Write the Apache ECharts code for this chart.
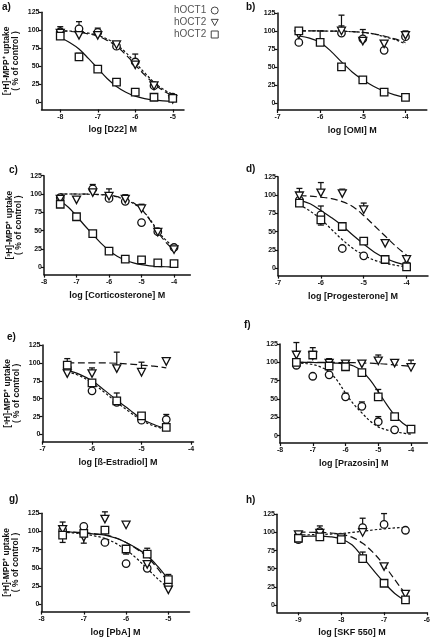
<!DOCTYPE html>
<html><head><meta charset="utf-8">
<script src="https://cdn.jsdelivr.net/npm/echarts@6/dist/echarts.min.js"></script>
<style>html,body{margin:0;padding:0;background:#fff}#c{width:433px;height:640px}</style>
</head><body><div id="c"></div><script>
// ---------- data ----------
const yTicks = [0, 25, 50, 75, 100, 125];
const legendNames = ['hOCT1', 'hOCT2', 'hOCT2'];
const panelLabels = ['a)', 'b)', 'c)', 'd)', 'e)', 'f)', 'g)', 'h)'];
const xNames = ['log [D22] M', 'log [OMI] M', 'log [Corticosterone] M', 'log [Progesterone] M',
  'log [ß-Estradiol] M', 'log [Prazosin] M', 'log [PbA] M', 'log [SKF 550] M'];
const yName = '[³H]-MPP⁺ uptake\n( % of control )';

// panel a
const xTicksA = [-8, -7, -6, -5];
const dosesA = [-8, -7.5, -7, -6.5, -6, -5.5, -5];
const oct1A = [98, 102, 97, 78, 56, 23, 7];      const err1A = [7, 10, 6, 0, 11, 0, 0];
const oct2A = [96, 93, 93, 80, 52, 23, 4];       const err2A = [0, 0, 0, 4, 0, 0, 0];
const oct3A = [92, 63, 46, 28, 14, 7, 5.5];      const err3A = [0, 5, 0, 0, 0, 0, 0];
const fitXA = [-8, -7.75, -7.5, -7.25, -7, -6.75, -6.5, -6.25, -6, -5.75, -5.5, -5.25, -5];
const fit1A = [99.5, 99, 98, 96, 93, 88, 80, 69, 55, 41, 28, 18, 11];
const fit2A = [99, 98.5, 97, 95, 92, 86, 78, 66, 52, 38, 26, 16, 9];
const fit3A = [90, 83, 74, 61, 47, 33, 22, 14, 8.5, 5, 3, 2, 1.5];

// panel b
const xTicksB = [-7, -6, -5, -4];
const dosesB = [-6.5, -6, -5.5, -5, -4.5, -4];
const oct1B = [84, null, 97, 89, 73, 92];        const err1B = [0, 0, 10, 13, 0, 0];
const oct2B = [95, null, 100, 86, 82, 94];       const err2B = [0, 0, 22, 0, 4, 6];
const oct3B = [100, 84, 50, 32, 15, 7.5];        const err3B = [0, 16, 0, 0, 0, 0];
const fitXB = [-6.5, -6.25, -6, -5.75, -5.5, -5.25, -5, -4.75, -4.5, -4.25, -4];
const fit1B = [100, 100, 100, 99.8, 99.5, 99, 98, 96, 92, 88, 82];
const fit2B = [100, 100, 100, 99.8, 99.5, 99, 98, 96, 93, 89, 84];
const fit3B = [93, 90, 84, 72, 57, 43, 32, 23, 16, 11, 7];

// panel c
const xTicksC = [-8, -7, -6, -5, -4];
const dosesC = [-7.5, -7, -6.5, -6, -5.5, -5, -4.5, -4];
const oct1C = [95, null, 107, 94, 90, 61, 48.5, 27]; const err1C = [0, 0, 6, 13, 9, 0, 0, 0];
const oct2C = [93, 92, 102, 97, 93, 80, 48, 24];     const err2C = [0, 0, 0, 0, 0, 6, 0, 0];
const oct3C = [86, 69, 46, 22, 11, 10, 6, 5];        const err3C = [0, 0, 0, 0, 0, 0, 0, 0];
const fitXC = [-7.5, -7.25, -7, -6.75, -6.5, -6.25, -6, -5.75, -5.5, -5.25, -5, -4.75, -4.5, -4.25, -4];
const fit1C = [100, 100, 100, 99.8, 99.5, 99, 98, 96, 92, 87, 79, 66, 50, 37, 27];
const fit2C = [100, 100, 100, 100, 99.7, 99.3, 98.5, 96.5, 93, 88, 79, 65, 48, 34, 23];
const fit3C = [90, 82, 70, 57, 45, 33, 23, 15, 10, 6, 3.5, 2, 1.2, 0.7, 0.4];

// panel d
const xTicksD = [-7, -6, -5, -4];
const dosesD = [-6.5, -6, -5.5, -5, -4.5, -4];
const oct1D = [93, 73, 27, 17, 12, 4];           const err1D = [0, 12, 0, 0, 0, 0];
const oct2D = [99, 103, 102, 80, 34, 12];        const err2D = [10, 14, 6, 9, 0, 0];
const oct3D = [89, 66, 57, 37, 12, 2];           const err3D = [0, -7, 0, 0, 0, 0];
const fitXD = [-6.5, -6.25, -6, -5.75, -5.5, -5.25, -5, -4.75, -4.5, -4.25, -4];
const fit1D = [87, 78, 67, 53, 39, 27, 18, 11, 7, 4, 2];
const fit2D = [99, 98.5, 97, 95, 91, 84, 72, 58, 44, 30, 18];
const fit3D = [93, 88, 79, 69, 58, 45, 33, 22, 14, 8, 4];

// panel e
const xTicksE = [-7, -6, -5, -4];
const dosesE = [-6.5, -6, -5.5, -5, -4.5];
const oct1E = [93, 61, 45, 20, 21];              const err1E = [0, 0, 0, 0, 7];
const oct2E = [85, 85, 92, 87, 102];             const err2E = [0, 8, 23, 14, 0];
const oct3E = [97, 72, 47, 26, 10];              const err3E = [9, 0, 11, 0, 0];
const fitXE = [-6.5, -6.25, -6, -5.75, -5.5, -5.25, -5, -4.75, -4.5];
const fit1E = [88, 82, 72, 59, 45, 32, 20, 12, 7];
const fit2E = [100, 100, 100, 100, 99.5, 98.5, 97, 95.5, 93];
const fit3E = [90, 84, 75, 62, 48, 35, 22, 14, 8];

// panel f
const xTicksF = [-8, -7, -6, -5, -4];
const dosesF = [-7.5, -7, -6.5, -6, -5.5, -5, -4.5, -4];
const oct1F = [96, 81, 83, 53, 40, 19, 8, null];     const err1F = [0, 0, 0, 5, 6, 7, 0, 0];
const oct2F = [110, 109, 99, 98, 98, 102, 99, 93];   const err2F = [17, 11, 6, 4, 4, 8, 0, 10];
const oct3F = [100, 110, 95, 94, 86, 53, 26, 9];     const err3F = [0, 0, 0, 0, 0, 10, 0, 0];
const fitXF = [-7.5, -7.25, -7, -6.75, -6.5, -6.25, -6, -5.75, -5.5, -5.25, -5, -4.75, -4.5, -4.25, -4];
const fit1F = [99, 98.5, 97, 93.5, 87, 75, 58, 43, 31, 20, 12, 8, 5.5, 3.5, 2];
const fit2F = [100, 100, 100, 100, 100, 99.8, 99.7, 99.5, 99.2, 98.8, 98.2, 97.5, 96.5, 95.5, 94.5];
const fit3F = [100, 100, 99.8, 99.6, 99.3, 98.8, 97.5, 95, 88, 76, 60, 43, 28, 17, 10];

// panel g
const xTicksG = [-8, -7, -6, -5];
const dosesG = [-7.5, -7, -6.5, -6, -5.5, -5];
const oct1G = [102, 107, 85, 56, 49.5, 26.5];    const err1G = [0, 0, 0, 0, 0, 0];
const oct2G = [103, 92, 117, 109, 55, 20];       const err2G = [10, -8, 10, 0, 0, 0];
const oct3G = [95, 97.5, 102, 76, 69, 34];       const err3G = [-10, 0, 0, -7, 8, 7];
const fitXG = [-7.5, -7.25, -7, -6.75, -6.5, -6.25, -6, -5.75, -5.5, -5.25, -5];
const fit1G = [99, 98, 96.5, 94, 90.5, 84, 75, 63, 49, 35, 22];
const fit2G = [99.8, 99.3, 98.5, 97, 95.5, 91.5, 85, 76, 65, 49, 30];
const fit3G = [99.7, 99, 98, 96.5, 95, 91, 85, 77, 67, 52, 34];

// panel h
const xTicksH = [-9, -8, -7, -6];
const dosesH = [-9, -8.5, -8, -7.5, -7, -6.5];
const oct1H = [90, 101, 93, 106.6, 111, 103];    const err1H = [0, 8, 0, 13, 15, 0];
const oct2H = [97, 99, 93, 100, 53, 15];         const err2H = [0, 0, 0, 0, 0, 0];
const oct3H = [92, 94, 90, 64, 30, 7];           const err3H = [0, 0, 0, 9, 0, 0];
const fitXH = [-9, -8.75, -8.5, -8.25, -8, -7.75, -7.5, -7.25, -7, -6.75, -6.5];
const fit1H = [96.5, 96.8, 97.2, 97.8, 98.7, 100, 101.7, 103.5, 105, 106.2, 107];
const fit2H = [100.5, 100.3, 100, 99.3, 97.5, 93.5, 85, 72, 55, 35, 15];
const fit3H = [94, 95, 95, 94, 91, 83, 66, 48, 31, 16, 6];

// ---------- layout (positions/styles) ----------
const FONT = 'Liberation Sans, Arial, sans-serif';
const layout = [
  { left: 41.5, top: 12.3, width: 142.5, height: 97.2, xmin: -8.5, xmax: -4.7 },
  { left: 277.5, top: 13, width: 149.3, height: 97, xmin: -7, xmax: -3.5 },
  { left: 44, top: 175.7, width: 146.3, height: 98.9, xmin: -8, xmax: -3.5 },
  { left: 278, top: 176.7, width: 150, height: 98.9, xmin: -7, xmax: -3.5 },
  { left: 42.5, top: 345, width: 151, height: 96.7, xmin: -7, xmax: -3.95 },
  { left: 280, top: 344, width: 147.4, height: 99, xmin: -8, xmax: -3.5 },
  { left: 41.5, top: 513.3, width: 148, height: 98.3, xmin: -8, xmax: -4.5 },
  { left: 277, top: 514.3, width: 151.3, height: 98, xmin: -9.5, xmax: -6 }
];
const labelPos = [[2, 2], [246, 2], [9, 165], [246, 164], [7, 332], [244, 320], [9, 494], [246, 495]];

const panels = [
  [xTicksA, dosesA, oct1A, err1A, oct2A, err2A, oct3A, err3A, fitXA, fit1A, fit2A, fit3A],
  [xTicksB, dosesB, oct1B, err1B, oct2B, err2B, oct3B, err3B, fitXB, fit1B, fit2B, fit3B],
  [xTicksC, dosesC, oct1C, err1C, oct2C, err2C, oct3C, err3C, fitXC, fit1C, fit2C, fit3C],
  [xTicksD, dosesD, oct1D, err1D, oct2D, err2D, oct3D, err3D, fitXD, fit1D, fit2D, fit3D],
  [xTicksE, dosesE, oct1E, err1E, oct2E, err2E, oct3E, err3E, fitXE, fit1E, fit2E, fit3E],
  [xTicksF, dosesF, oct1F, err1F, oct2F, err2F, oct3F, err3F, fitXF, fit1F, fit2F, fit3F],
  [xTicksG, dosesG, oct1G, err1G, oct2G, err2G, oct3G, err3G, fitXG, fit1G, fit2G, fit3G],
  [xTicksH, dosesH, oct1H, err1H, oct2H, err2H, oct3H, err3H, fitXH, fit1H, fit2H, fit3H]
];

const TRI = 'path://M0,0L10,0L5,9Z';
const symbols = [
  { symbol: 'circle', size: 7.5 },
  { symbol: TRI, size: [8, 7.5] },
  { symbol: 'rect', size: 7.5 }
];
const seriesNames = ['hOCT1', 'hOCT2', 'hOCT3'];
const dashes = [[2.5, 2], [7, 3.5], 'solid'];
const INK = '#111';

const grid = [], xAxis = [], yAxis = [], series = [], graphic = [];

function errRender(params, api) {
  const x = api.value(0), y = api.value(1), e = api.value(2);
  const p0 = api.coord([x, y]);
  const p1 = api.coord([x, y + e]);
  return {
    type: 'group', children: [
      { type: 'line', shape: { x1: p0[0], y1: p0[1], x2: p1[0], y2: p1[1] }, style: { stroke: INK, lineWidth: 1.2 } },
      { type: 'line', shape: { x1: p1[0] - 3, y1: p1[1], x2: p1[0] + 3, y2: p1[1] }, style: { stroke: INK, lineWidth: 1.3 } }
    ]
  };
}

panels.forEach((p, i) => {
  const L = layout[i];
  const [xt, doses, o1, e1, o2, e2, o3, e3, fx, f1, f2, f3] = p;
  grid.push({ left: L.left, top: L.top, width: L.width, height: L.height });
  xAxis.push({
    type: 'value', gridIndex: i, min: L.xmin, max: L.xmax,
    axisLine: { show: true, onZero: false, lineStyle: { color: INK, width: 1.5 } },
    axisTick: { show: true, length: 3, lineStyle: { color: INK, width: 1.2 }, customValues: xt },
    axisLabel: { customValues: xt, fontSize: 7, fontWeight: 'bold', color: INK, margin: 4, fontFamily: FONT },
    splitLine: { show: false },
    name: xNames[i], nameLocation: 'middle', nameGap: 16,
    nameTextStyle: { fontSize: 9, fontWeight: 'bold', color: INK, fontFamily: FONT }
  });
  const ya = {
    type: 'value', gridIndex: i, min: -10, max: 125,
    axisLine: { show: true, onZero: false, lineStyle: { color: INK, width: 1.5 } },
    axisTick: { show: true, length: 3, lineStyle: { color: INK, width: 1.2 }, customValues: yTicks },
    axisLabel: { customValues: yTicks, fontSize: 7, fontWeight: 'bold', color: INK, margin: 2, fontFamily: FONT },
    splitLine: { show: false }
  };
  if (i % 2 === 0) {
    ya.name = yName; ya.nameLocation = 'middle'; ya.nameRotate = 90; ya.nameGap = 21;
    ya.nameTextStyle = { fontSize: 8.5, fontWeight: 'bold', color: INK, fontFamily: FONT, lineHeight: 9 };
  }
  yAxis.push(ya);

  const means = [o1, o2, o3], errs = [e1, e2, e3], fits = [f1, f2, f3];
  for (let k = 0; k < 3; k++) {
    series.push({
      type: 'line', name: 'fit' + k, xAxisIndex: i, yAxisIndex: i,
      data: fx.map((x, j) => [x, fits[k][j]]),
      showSymbol: false, smooth: 0.35, silent: true, z: 2,
      lineStyle: { color: INK, width: 1.2, type: dashes[k] }
    });
    const ebars = [];
    doses.forEach((d, j) => { if (means[k][j] != null && errs[k][j]) ebars.push([d, means[k][j], errs[k][j]]); });
    series.push({
      type: 'custom', name: 'err' + k, xAxisIndex: i, yAxisIndex: i,
      data: ebars, renderItem: errRender, encode: { x: 0, y: 1 }, z: 3, silent: true
    });
  }
  for (let k = 0; k < 3; k++) {
    const pts = [];
    doses.forEach((d, j) => { if (means[k][j] != null) pts.push([d, means[k][j]]); });
    series.push({
      type: 'scatter', name: seriesNames[k], xAxisIndex: i, yAxisIndex: i,
      data: pts, symbol: symbols[k].symbol, symbolSize: symbols[k].size, z: 4, clip: false,
      itemStyle: { color: '#fff', borderColor: INK, borderWidth: 1.3, opacity: 1 }
    });
  }
  graphic.push({
    type: 'text', left: labelPos[i][0], top: labelPos[i][1],
    style: { text: panelLabels[i], font: 'bold 10px ' + FONT, fill: INK }
  });
});

const chart = echarts.init(document.getElementById('c'), null, { renderer: 'canvas' });
chart.setOption({
  animation: false,
  backgroundColor: '#fff',
  grid, xAxis, yAxis, series, graphic,
  legend: {
    orient: 'vertical', left: 169, top: 0, align: 'right', itemGap: 1,
    itemWidth: 7, itemHeight: 7,
    textStyle: { fontSize: 10, color: '#555', fontFamily: FONT, lineHeight: 11 },
    formatter: n => legendNames[seriesNames.indexOf(n)],
    data: [
      { name: 'hOCT1', icon: 'circle', itemStyle: { color: '#fff', borderColor: '#444', borderWidth: 1 } },
      { name: 'hOCT2', icon: TRI, itemStyle: { color: '#fff', borderColor: '#444', borderWidth: 1 } },
      { name: 'hOCT3', icon: 'rect', itemStyle: { color: '#fff', borderColor: '#444', borderWidth: 1 } }
    ],
    selectedMode: false
  }
});
</script></body></html>
